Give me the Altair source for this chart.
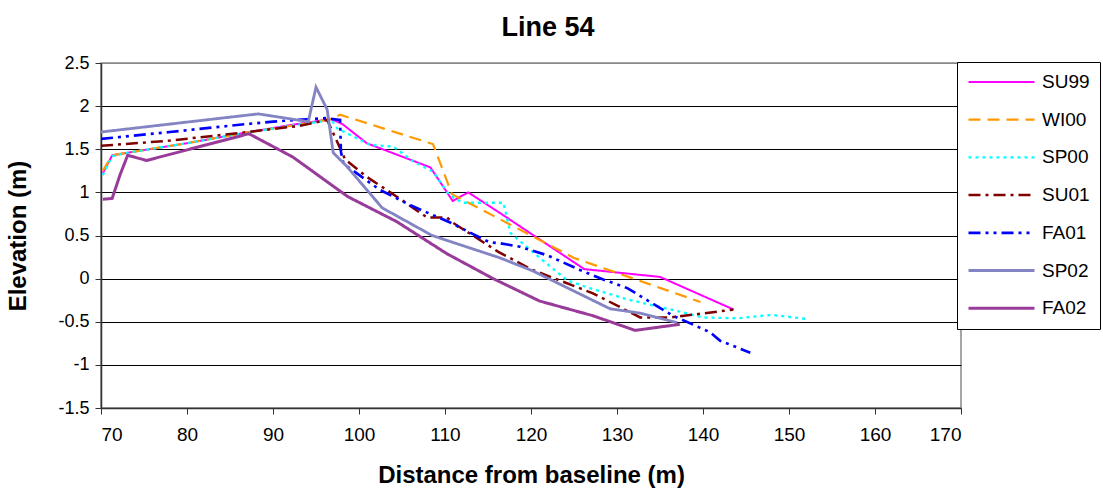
import altair as alt
import pandas as pd

series_names = ["SU99", "WI00", "SP00", "SU01", "FA01", "SP02", "FA02"]
series_colors = ["#FF00FF", "#FF9900", "#00FFFF", "#800000", "#0000FF", "#8484C4", "#993C99"]
series_dashes = [[1, 0], [12, 7], [3, 4], [12, 5, 3, 5], [12, 5, 3, 5, 3, 5], [1, 0], [1, 0]]
series_widths = [2, 3, 3, 2, 1.6, 2, 3.5]

su99_x = [70.2, 71.3, 73.1, 80, 86.7, 92, 96.8, 98.1, 100.9, 108.3, 110.9, 112.7, 116.4, 126.2, 135, 143.6]
su99_y = [1.22, 1.43, 1.46, 1.57, 1.69, 1.78, 1.85, 1.79, 1.57, 1.29, 0.90, 1.00, 0.76, 0.11, 0.02, -0.36]

wi00_x = [70.2, 71.3, 73.1, 80, 86.7, 92, 96.8, 97.8, 108.6, 110.8, 125, 139.7]
wi00_y = [1.25, 1.43, 1.46, 1.57, 1.69, 1.77, 1.85, 1.90, 1.56, 0.98, 0.24, -0.27]

sp00_x = [70.2, 71.3, 73.1, 80, 86.7, 92, 96.8, 97.5, 101.3, 104, 106.3, 108.6, 110.5, 112, 116.8, 117.6,
          121.4, 124.2, 126.5, 131.2, 137.2, 140, 144, 148, 152.3]
sp00_y = [1.20, 1.42, 1.46, 1.57, 1.69, 1.77, 1.84, 1.74, 1.55, 1.53, 1.36, 1.24, 0.97, 0.88, 0.88, 0.53,
          0.21, -0.02, -0.10, -0.24, -0.38, -0.45, -0.46, -0.42, -0.47]

su01_x = [70, 78, 86.2, 93, 96.3, 98.4, 100.9, 104.4, 107.9, 110.2, 110.9, 116.2, 120.2, 127.2, 132.7, 136.2, 143.5]
su01_y = [1.54, 1.60, 1.69, 1.77, 1.84, 1.38, 1.18, 0.95, 0.71, 0.71, 0.65, 0.31, 0.10, -0.17, -0.45, -0.45, -0.36]

fa01_x = [70, 78, 86.7, 90, 92.8, 96, 97.8, 97.9, 98.2, 101.3, 102.4, 106, 110.6, 115.2, 116.4, 118.7,
          121.9, 125.7, 128.4, 131.2, 133.5, 136.5, 140.8, 142, 145.5]
fa01_y = [1.62, 1.70, 1.79, 1.82, 1.84, 1.86, 1.84, 1.47, 1.33, 1.11, 1.03, 0.85, 0.65, 0.42, 0.41, 0.37,
          0.27, 0.10, -0.01, -0.11, -0.25, -0.43, -0.62, -0.72, -0.86]

sp02_x = [70, 88.3, 94.1, 95.0, 96.3, 97.0, 98.6, 102.7, 108.5, 116.4, 120.2, 129.2, 132.7, 137]
sp02_y = [1.70, 1.91, 1.82, 2.22, 1.96, 1.46, 1.30, 0.82, 0.50, 0.24, 0.09, -0.35, -0.40, -0.51]

fa02_x = [70.2, 71.3, 72.2, 73.1, 75.3, 87.2, 92.3, 98.7, 104.4, 110.2, 115.6, 121, 127.2, 132.1, 137.3]
fa02_y = [0.92, 0.93, 1.20, 1.43, 1.37, 1.68, 1.41, 0.95, 0.66, 0.29, 0.0, -0.26, -0.43, -0.60, -0.53]

xs = [su99_x, wi00_x, sp00_x, su01_x, fa01_x, sp02_x, fa02_x]
ys = [su99_y, wi00_y, sp00_y, su01_y, fa01_y, sp02_y, fa02_y]

rows = []
for name, sx, sy in zip(series_names, xs, ys):
    for i, (a, b) in enumerate(zip(sx, sy)):
        rows.append({"series": name, "x": a, "y": b, "idx": i})
df = pd.DataFrame(rows)

x_ticks = [70, 80, 90, 100, 110, 120, 130, 140, 150, 160, 170]
y_ticks = [-1.5, -1, -0.5, 0, 0.5, 1, 1.5, 2, 2.5]

FONT = "Liberation Sans"

legend = alt.Legend(
    title=None,
    orient="none",
    legendX=856,
    legendY=-1,
    symbolType="stroke",
    symbolSize=4356,
    clipHeight=20,
    rowPadding=17.7,
    padding=10,
    labelOffset=6,
    labelFontSize=19,
    labelFont=FONT,
    labelColor="black",
    strokeColor="black",
    fillColor="white",
)

chart = alt.Chart(df).mark_line(clip=True).encode(
    x=alt.X("x:Q", scale=alt.Scale(domain=[70, 170], nice=False, zero=False),
            axis=alt.Axis(values=x_ticks, title="Distance from baseline (m)", grid=False,
                          tickSize=6, labelPadding=11, titlePadding=19, format="d")),
    y=alt.Y("y:Q", scale=alt.Scale(domain=[-1.5, 2.5], nice=False, zero=False),
            axis=alt.Axis(values=y_ticks, title="Elevation (m)", grid=True,
                          gridColor={"condition": {"test": "datum.value >= 2.5", "value": "#888888"},
                                     "value": "#000000"},
                          tickSize=6, labelPadding=6, titlePadding=27,
                          labelExpr="datum.value < 0 ? '-' + format(-datum.value, '~g') : format(datum.value, '~g')")),
    color=alt.Color("series:N", scale=alt.Scale(domain=series_names, range=series_colors), legend=legend),
    strokeDash=alt.StrokeDash("series:N", scale=alt.Scale(domain=series_names, range=series_dashes), legend=legend),
    strokeWidth=alt.StrokeWidth("series:N", scale=alt.Scale(domain=series_names, range=series_widths), legend=legend),
    order=alt.Order("idx:Q"),
).properties(
    width=860,
    height=345,
    title=alt.TitleParams(text="Line 54", fontSize=27, fontWeight="bold", font=FONT,
                          anchor="middle", dx=17, offset=12, color="black"),
    autosize=alt.AutoSizeParams(type="none"),
    padding={"left": 101, "top": 63, "right": 142, "bottom": 90},
).configure_view(
    stroke="#888888", strokeWidth=1.5,
).configure_axis(
    labelFont=FONT, titleFont=FONT, labelFontSize=18, titleFontSize=24, titleFontWeight="bold",
    labelColor="black", titleColor="black", domainColor="#333333", tickColor="#333333",
    gridWidth=1, domainWidth=1.5,
).configure_axisX(labelFontSize=19)

chart.save("out.html", embed_options={"renderer": "svg", "actions": False})
